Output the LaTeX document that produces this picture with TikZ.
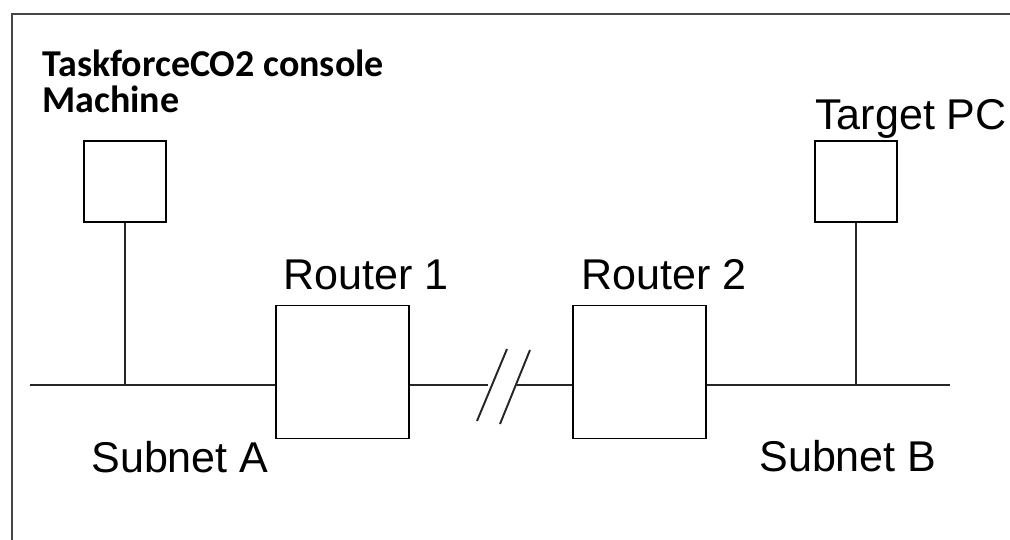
\documentclass[tikz,border=0pt]{standalone}
\usepackage{fontspec}
\setmainfont{Liberation Sans}
\newfontfamily\calibrifont{Carlito}
\definecolor{framegray}{RGB}{70,70,70}
\usetikzlibrary{positioning}

\begin{document}
\begin{tikzpicture}[
  pcbox/.style={draw, line width=1.1pt, minimum width=1.64cm, minimum height=1.62cm, inner sep=0pt},
  routerbox/.style={draw, line width=1.1pt, minimum width=2.66cm, minimum height=2.66cm, inner sep=0pt},
  wire/.style={line width=1.1pt, color=black!85},
  lbl/.style={anchor=base west, inner sep=0pt, font=\fontsize{24.5}{28}\selectfont},
  titlelbl/.style={anchor=base west, inner sep=0pt, align=left, font=\calibrifont\bfseries\fontsize{21.6}{20.5}\selectfont}
]
  \useasboundingbox (0,0) rectangle (20.2,-10.8);
  % outer frame, cut at the right and bottom
  \draw[line width=1.5pt, color=framegray] (0.24,-10.8) -- (0.24,-0.28) -- (20.2,-0.28);

  \node[pcbox] (console) at (2.5,-3.63) {};
  \node[pcbox] (target) at (17.12,-3.63) {};
  \node[routerbox] (r1) at (6.85,-7.44) {};
  \node[routerbox] (r2) at (12.79,-7.44) {};

  \coordinate (busL) at (0.6,-7.7);
  \coordinate (busR) at (19.0,-7.7);
  \coordinate (brkL) at (9.76,-7.7);
  \coordinate (brkR) at (10.34,-7.7);

  % bus lines
  \draw[wire] (busL) -- (busL -| r1.west);
  \draw[wire] (brkL -| r1.east) -- (brkL);
  \draw[wire] (brkR) -- (brkR -| r2.west);
  \draw[wire] (busR -| r2.east) -- (busR);
  \draw[wire] (console.south) -- (console |- busL);
  \draw[wire] (target.south) -- (target |- busR);

  % break marks
  \draw[wire] ([xshift=-0.22cm, yshift=-0.72cm]brkL) -- ([xshift=0.38cm, yshift=0.72cm]brkL);
  \draw[wire] ([xshift=-0.34cm, yshift=-0.78cm]brkR) -- ([xshift=0.26cm, yshift=0.7cm]brkR);

  % labels
  \node[titlelbl] (consolelbl) at (0.84,-2.26) {TaskforceCO2 console\\Machine};
  \node[lbl] (targetlbl) at (16.3,-2.6) {Target PC};
  \node[lbl] (r1lbl) at (5.66,-5.78) {Router 1};
  \node[lbl] (r2lbl) at (11.62,-5.78) {Router 2};
  \node[lbl] (subnetA) at (1.82,-9.44) {Subnet A};
  \node[lbl] (subnetB) at (15.18,-9.42) {Subnet B};
\end{tikzpicture}
\end{document}
